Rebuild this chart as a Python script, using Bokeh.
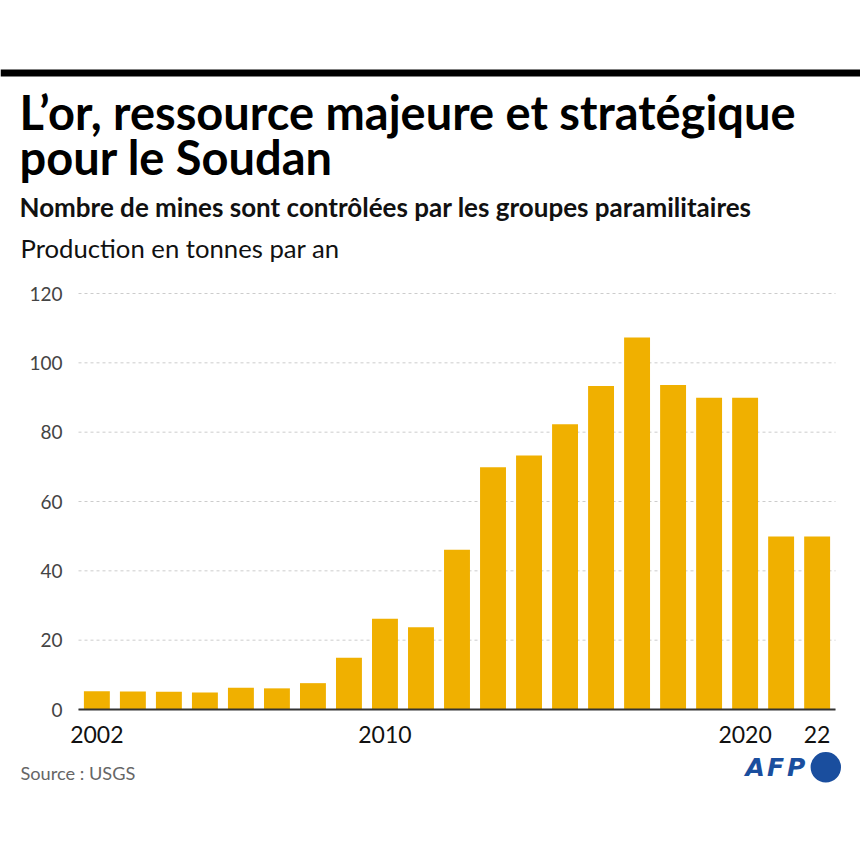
from bokeh.plotting import figure
from bokeh.models import Range1d, FixedTicker
from bokeh.core.properties import value
from bokeh.embed import file_html
from bokeh.resources import INLINE

# ---- data ----
years = list(range(2002, 2023))
production = [5.3, 5.2, 5.1, 4.9, 6.3, 6.1, 7.6, 14.9, 26.2, 23.7, 46.1,
              69.9, 73.3, 82.3, 93.3, 107.3, 93.6, 89.9, 89.9, 49.9, 49.9]
x_ticks = [2002, 2010, 2020, 2022]
x_tick_labels = {2022: "22"}
y_ticks = [0, 20, 40, 60, 80, 100, 120]

title_lines = ["L\u2019or, ressource majeure et stratégique", "pour le Soudan"]
subtitle = "Nombre de mines sont contrôlées par les groupes paramilitaires"
unit_label = "Production en tonnes par an"
source = "Source : USGS"
logo_letters = ["A", "F", "P"]

# ---- layout (page pixels) ----
FONT = "Lato"
BAR = "#F0B000"
BLUE = "#1A4E9E"
W, H = 860, 860
PLOT_LEFT, PLOT_RIGHT = 78, 835      # chart area, px
BASE_Y, TOP_Y = 709, 293             # px of y=0 and y=120
BASELINE_SHIFT = 0.32                # em, renderer's baseline offset

x_lo, x_hi = years[0] - 0.51, years[-1] + 0.51
px_per_x = (PLOT_RIGHT - PLOT_LEFT) / (x_hi - x_lo)
px_per_y = (BASE_Y - TOP_Y) / y_ticks[-1]
X0 = x_lo - PLOT_LEFT / px_per_x
X1 = x_hi + (W - PLOT_RIGHT) / px_per_x
Y1 = BASE_Y / px_per_y
Y0 = -(H - BASE_Y) / px_per_y


def dx(px):
    return X0 + px / px_per_x


def dy(py):
    return Y1 - py / px_per_y


p = figure(width=W, height=H, output_backend="svg", toolbar_location=None,
           x_range=Range1d(X0, X1), y_range=Range1d(Y0, Y1),
           min_border=0, min_border_left=0, min_border_right=0,
           min_border_top=0, min_border_bottom=0)
p.outline_line_color = None
p.background_fill_color = "white"
p.border_fill_color = "white"
p.grid.visible = False

# dashed horizontal grid lines, limited to the chart area
p.segment(x0=[x_lo] * len(y_ticks), x1=[x_hi] * len(y_ticks), y0=y_ticks, y1=y_ticks,
          line_color="#cccccc", line_width=1, line_dash="3 3")

# bars
p.vbar(x=years, top=production, bottom=0, width=0.72, fill_color=BAR, line_color=None)

# y axis
p.yaxis.fixed_location = x_lo
p.yaxis.bounds = (0, y_ticks[-1])
p.yaxis.ticker = FixedTicker(ticks=y_ticks)
p.yaxis.axis_line_color = None
p.yaxis.major_tick_line_color = None
p.yaxis.minor_tick_line_color = None
p.yaxis.major_tick_out = 0
p.yaxis.major_tick_in = 0
p.yaxis.major_label_standoff = 16
p.yaxis.major_label_text_font = FONT
p.yaxis.major_label_text_font_size = "19px"
p.yaxis.major_label_text_color = "#444444"

# x axis
p.xaxis.fixed_location = 0
p.xaxis.bounds = (x_lo, x_hi)
p.xaxis.ticker = FixedTicker(ticks=x_ticks)
p.xaxis.major_label_overrides = x_tick_labels
p.xaxis.axis_line_color = "#333333"
p.xaxis.axis_line_width = 2
p.xaxis.major_tick_line_color = None
p.xaxis.minor_tick_line_color = None
p.xaxis.major_tick_out = 0
p.xaxis.major_tick_in = 0
p.xaxis.major_label_standoff = 16
p.xaxis.major_label_text_font = FONT
p.xaxis.major_label_text_font_size = "23px"
p.xaxis.major_label_text_color = "#111111"

# top black rule
p.quad(left=[dx(0)], right=[dx(W)], top=[dy(69)], bottom=[dy(76)],
       fill_color="black", line_color=None)


def add_text(txt, px, baseline_px, size_px, style="normal", color="#111111", font=FONT):
    py = baseline_px - BASELINE_SHIFT * size_px
    p.text(x=[dx(px)], y=[dy(py)], text=[txt], text_font=value(font),
           text_font_size=value(f"{size_px}px"), text_font_style=style,
           text_color=color, text_align="left", text_baseline="alphabetic")


add_text(title_lines[0], 19, 127, 47, "bold", "#000000")
add_text(title_lines[1], 19, 172, 47, "bold", "#000000")
add_text(subtitle, 19, 215, 26, "bold", "#111111")
add_text(unit_label, 20, 256, 25.7, "normal", "#111111")
add_text(source, 20, 778, 18.2, "normal", "#666666")

# AFP logo
for letter, lx in zip(logo_letters, [745, 766.5, 786.5]):
    add_text(letter, lx, 775, 25, "bold italic", BLUE, "DejaVu Sans")
p.scatter(x=[dx(825.3)], y=[dy(766.7)], size=30.4, marker="circle",
          fill_color=BLUE, line_color=None)

open("out.html", "w").write(file_html(p, INLINE))
